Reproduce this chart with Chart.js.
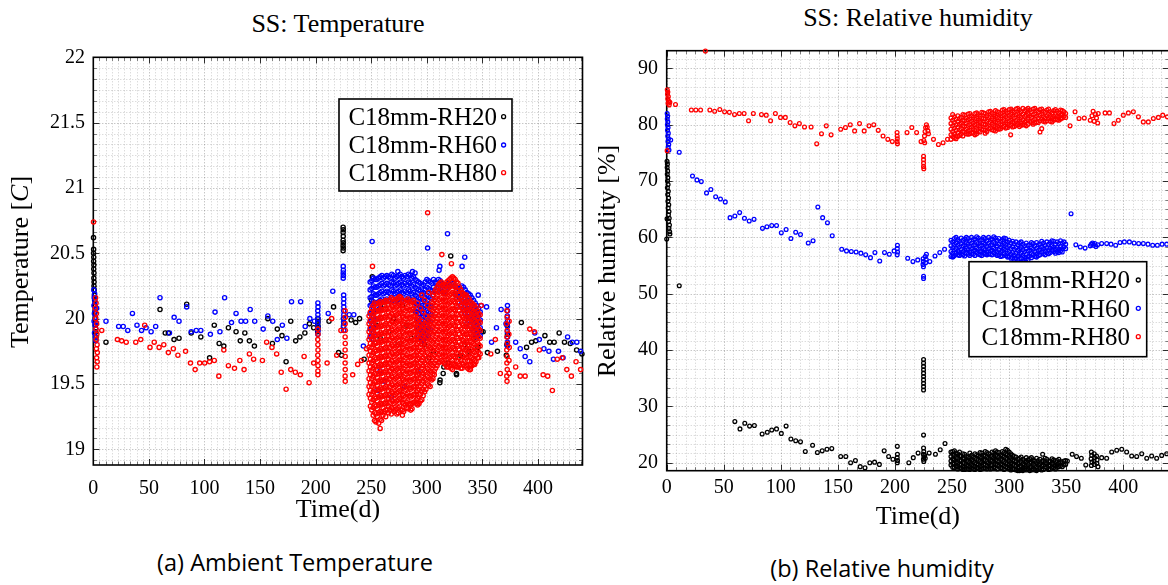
<!DOCTYPE html>
<html>
<head>
<meta charset="utf-8">
<script src="https://cdn.jsdelivr.net/npm/chart.js@4.4.1/dist/chart.umd.min.js"></script>
<style>
  html,body{margin:0;padding:0;background:#fff;}
  body{width:1168px;height:585px;overflow:hidden;position:relative;}
  canvas{position:absolute;top:0;}
  #cT{left:0;}
  #cH{left:590px;}
  .ttl{position:absolute;font-family:"Liberation Serif",serif;font-size:26px;line-height:30px;text-align:center;color:#000;white-space:nowrap;}
  .cap{position:absolute;font-family:"Open Sans",sans-serif;font-weight:500;font-size:23.5px;line-height:30px;text-align:center;color:#000;white-space:nowrap;}
</style>
</head>
<body>
<div class="ttl" style="left:0;width:676px;top:9px;">SS: Temperature</div>
<div class="ttl" style="left:590px;width:656px;top:3px;">SS: Relative humidity</div>
<canvas id="cT" width="590" height="540"></canvas>
<canvas id="cH" width="590" height="540"></canvas>
<div class="cap" style="left:95px;width:400px;top:547px;">(a) Ambient Temperature</div>
<div class="cap" style="left:682px;width:400px;top:553px;">(b) Relative humidity</div>
<script>
const seriesNames = ['C18mm-RH20', 'C18mm-RH60', 'C18mm-RH80'];
const seriesColors = ['#000000', '#0000ff', '#ff0000'];
const dayTicks = [0, 50, 100, 150, 200, 250, 300, 350, 400];
const tempTicks = [19, 19.5, 20, 20.5, 21, 21.5, 22];
const humTicks = [20, 30, 40, 50, 60, 70, 80, 90];

// ---------------- Temperature (day, °C) ----------------
const tempRH20 = [
 [0.2,20.62],[0.3,20.53],[0.2,20.50],[0.4,20.47],[0.3,20.44],[0.5,20.41],[0.4,20.38],[0.6,20.35],[0.5,20.31],[0.7,20.28],[0.6,20.25],[0.8,20.22],[1.0,20.18],[1.2,20.14],[1.4,20.10],[1.6,20.05],[1.8,20.00],[2.0,19.95],[2.2,19.90],[2.4,19.86],
 [11.4,19.82],[60.0,20.07],[64.7,19.89],[67.5,19.89],[72.6,19.84],[77.1,19.85],[84.0,20.11],[88.1,19.89],[96.7,19.86],[104.6,19.70],[108.8,19.95],[113.2,19.81],[117.4,19.79],[121.5,19.93],[128.4,19.90],[132.2,19.83],[136.3,19.89],[140.4,19.83],[144.9,19.79],[157.0,20.00],[161.1,19.81],[165.5,19.92],[169.7,19.87],[173.4,19.67],[177.6,19.98],[182.0,19.83],[185.8,19.86],[190.3,19.89],[194.4,19.96],[198.2,19.93],
 [201.8,19.90],[202.0,19.92],[202.2,19.94],[201.9,19.96],[202.1,19.98],[202.0,20.00],
 [212.0,19.98],[216.1,20.09],[220.6,19.74],[223.3,19.72],
 [224.7,20.70],[224.8,20.68],[224.7,20.66],[224.8,20.63],[224.7,20.60],[224.8,20.58],[224.7,20.56],[224.8,20.54],[224.7,20.52],[225.0,20.00],[225.2,19.97],[225.0,19.94],
 [231.9,19.99],[236.0,19.97],[239.5,20.00],[243.6,19.69],
 [250.9,20.32],[250.2,20.14],[252,20.05],[255,19.95],[258,19.85],[262,20.10],[266,19.90],[270,20.00],[274,19.80],[278,20.10],[282,19.95],[286,19.85],[290,20.05],[294,19.90],[298,19.80],[302,19.70],[306,19.75],
 [311.7,19.51],[311.9,19.53],[314.7,19.58],[315.3,19.63],[319.2,19.66],[321.5,20.48],[326.6,19.58],[326.7,19.57],[330,19.72],[334,19.80],[338,19.75],[342,19.85],[346,19.78],[349,19.90],
 [350.6,19.90],[354.5,19.74],[363.5,19.75],
 [371.5,19.72],[372.0,19.80],[372.5,19.88],[372.2,19.95],
 [385.0,19.97],[389.7,19.78],[394.2,19.82],[398.0,19.83],[406.2,19.87],[410.5,19.82],[414.5,19.82],[419.0,19.89],[423.8,19.82],[429.0,19.81],[434.7,19.76],[439.5,19.73]
];

const tempRH60 = [
 [0.5,20.22],[1.2,20.19],[0.8,20.16],[1.5,20.13],[0.6,20.10],[1.8,20.07],[1.0,20.04],[2.0,20.01],[0.7,19.98],[1.6,19.95],[2.2,19.92],[1.1,19.89],[1.9,19.86],[2.4,19.83],[3.0,20.08],[2.6,19.97],
 [11.4,19.98],[22.8,19.94],[26.9,19.94],[31.0,19.91],[35.2,20.04],[39.3,19.95],[43.4,19.91],[47.5,19.93],[52.0,19.90],[56.1,19.94],[60.0,20.16],[68.5,19.89],[72.7,20.01],[77.1,19.98],[84.0,20.09],[88.1,19.90],[92.6,19.91],[96.7,19.91],[105.3,19.88],[109.5,20.05],[113.9,19.90],[118.1,20.16],[124.3,19.97],[128.4,20.04],[132.9,19.98],[137.0,19.98],[141.1,20.07],[145.2,19.98],[152.8,19.92],[157.0,20.02],[161.4,19.98],[165.5,19.84],[170.0,19.95],[174.1,19.85],[178.3,20.13],[186.5,20.13],[190.6,19.94],[194.8,20.00],[198.9,19.98],
 [202.0,20.12],[202.1,20.09],[201.9,20.06],[202.0,20.03],[202.1,20.00],[201.9,19.97],[202.0,19.94],[202.1,19.91],[202.0,19.88],
 [211.3,20.04],[215.4,20.21],
 [224.8,20.40],[224.9,20.37],[224.8,20.35],[224.9,20.33],[224.8,20.31],[225.2,20.18],[225.3,20.15],[225.2,20.12],[225.3,20.09],[225.2,20.06],[225.3,20.03],[225.2,20.00],[225.3,19.97],[225.2,19.94],[225.3,19.91],
 [230.2,20.03],[234.3,20.03],[242.9,19.79],
 [250.8,20.59],[300.7,20.54],[318.6,20.65],[334.1,20.47],[331.7,20.40],[311.0,20.37],[311.7,20.40],[273.9,20.36],[287.1,20.36],[289.4,20.35],[346.2,20.18],
 [256,19.45],[262,19.52],[268,19.40],[280,19.48],[292,19.60],[258,19.60],
 [348.9,20.10],[353.7,20.09],[358.2,19.82],[362.6,19.93],[366.8,20.07],[371.2,19.96],
 [372.5,20.10],[372.6,20.06],[372.4,20.02],[372.6,19.98],[372.5,19.94],[372.4,19.90],[372.6,19.86],[372.5,19.82],[372.4,19.79],
 [379.9,19.82],[384.0,19.77],[388.4,19.71],[392.6,19.67],[397.1,19.89],[401.2,19.84],[405.3,19.77],[409.8,19.75],[413.9,19.69],[418.4,19.75],[422.5,19.70],[426.6,19.86],[430.8,19.82],[434.9,19.82],[438.3,19.75]
];

// dense period, one column per entry: [day, readings...]
const tempRH60Band = [
 [249,20.28,20.22,20.16,20.10,20.04,19.98,19.92,19.86],
 [250.5,20.29,20.23,20.17,20.11,20.05,19.99,19.93,19.87],
 [252,20.31,20.25,20.19,20.13,20.07,20.01,19.95,19.89,19.84],
 [253.5,20.30,20.24,20.18,20.12,20.06,20.00,19.94],
 [255,20.30,20.24,20.18,20.12,20.06,20.00],
 [256.5,20.31,20.25,20.19,20.13,20.07],
 [258,20.32,20.26,20.20,20.14,20.08],
 [259.5,20.33,20.27,20.21,20.15],
 [261,20.31,20.25,20.19,20.13],
 [262.5,20.32,20.26,20.20,20.14],
 [264,20.33,20.27,20.21,20.15],
 [265.5,20.32,20.26,20.20,20.14],
 [267,20.31,20.25,20.19,20.13],
 [268.5,20.34,20.28,20.22,20.16],
 [270,20.33,20.27,20.21,20.15],
 [271.5,20.31,20.25,20.19,20.13],
 [273,20.32,20.26,20.20,20.14],
 [274.5,20.33,20.27,20.21,20.15],
 [276,20.34,20.28,20.22,20.16],
 [277.5,20.32,20.26,20.20,20.14],
 [279,20.31,20.25,20.19,20.13],
 [280.5,20.33,20.27,20.21,20.15],
 [282,20.32,20.26,20.20,20.14],
 [283.5,20.34,20.28,20.22,20.16],
 [285,20.33,20.27,20.21,20.15],
 [286.5,20.31,20.25,20.19,20.13],
 [288,20.32,20.26,20.20,20.14],
 [289.5,20.30,20.24,20.18,20.12,20.06],
 [291,20.29,20.23,20.17,20.11,20.05,19.99,19.93],
 [292.5,20.28,20.22,20.16,20.10,20.04,19.98,19.92,19.86],
 [294,20.27,20.21,20.15,20.09,20.03,19.97,19.91,19.85],
 [295.5,20.25,20.19,20.13,20.07,20.01,19.95,19.89,19.83],
 [297,20.26,20.20,20.14,20.08,20.02,19.96,19.90,19.84],
 [298.5,20.28,20.22,20.16,20.10,20.04,19.98,19.92,19.86],
 [300,20.30,20.24,20.18,20.12,20.06,20.00,19.94,19.88],
 [301.5,20.29,20.23,20.17,20.11,20.05,19.99,19.93,19.87],
 [303,20.28,20.22,20.16,20.10,20.04,19.98,19.92],
 [304.5,20.27,20.21,20.15,20.09,20.03],
 [306,20.30,20.24,20.18],
 [307.5,20.28,20.22],
 [309,20.27,20.21],
 [310.5,20.30,20.24],
 [312,20.29,20.23],
 [313.5,20.27,20.21],
 [315,20.26,20.20],
 [316.5,20.25,20.19],
 [318,20.24],
 [319.5,20.27],
 [321,20.25],
 [322.5,20.26],
 [324,20.27],
 [325.5,20.25,20.19],
 [327,20.24,20.18],
 [328.5,20.23,20.17],
 [330,20.22,20.16,20.10],
 [331.5,20.25,20.19,20.13],
 [333,20.24,20.18,20.12,20.06],
 [334.5,20.22,20.16,20.10,20.04],
 [336,20.20,20.14,20.08,20.02,19.96],
 [337.5,20.19,20.13,20.07,20.01],
 [339,20.18,20.12,20.06,20.00,19.94],
 [340.5,20.16,20.10,20.04,19.98,19.92],
 [342,20.14,20.08,20.02,19.96,19.90],
 [343.5,20.12,20.06,20.00,19.94,19.88],
 [345,20.10,20.04,19.98,19.92,19.86],
 [346.5,20.08,20.02,19.96,19.90],
 [348,20.05,19.99,19.93,19.87]
];

const tempRH80 = [
 [0.2,20.74],[2.1,20.16],[2.5,20.12],[1.8,20.08],[2.8,20.04],[2.2,20.00],[3.0,19.96],[2.4,19.92],[3.2,19.88],[2.6,19.84],[3.4,19.80],[2.8,19.77],[3.6,19.74],[3.0,19.70],[3.5,19.67],[3.2,19.63],[7.6,19.91],
 [21.7,19.84],[25.5,19.83],[29.6,19.82],[38.2,19.82],[42.7,19.84],[46.2,19.95],[51.0,19.78],[54.8,19.82],[59.2,19.78],[63.4,19.80],[67.5,19.74],[72.0,19.77],[76.1,19.72],[83.0,19.75],[87.4,19.66],[91.6,19.61],[95.7,19.66],[100.2,19.66],[104.6,19.67],[108.8,19.68],[112.9,19.56],[117.4,19.76],[121.5,19.64],[127.0,19.62],[131.8,19.68],[135.6,19.61],[140.4,19.73],[144.2,19.69],[152.1,19.68],[155.9,19.82],[160.7,19.78],[164.9,19.73],[169.0,19.59],[173.4,19.46],[177.6,19.61],[181.7,19.59],[186.2,19.57],[189.6,19.71],[194.1,19.51],[198.2,19.66],
 [202.0,19.92],[202.1,19.88],[201.9,19.84],[202.0,19.80],[202.1,19.76],[201.9,19.72],[202.0,19.68],[202.1,19.64],[202.0,19.60],[202.0,19.57],
 [210.3,19.66],[214.4,20.00],[218.9,19.72],[222.7,19.91],
 [226.5,20.06],[226.6,20.01],[226.5,19.96],[226.6,19.91],[226.5,19.86],[226.6,19.81],[226.5,19.76],[226.6,19.71],[226.5,19.66],[226.6,19.61],[226.5,19.56],[226.6,19.52],
 [233.3,19.57],[237.8,19.65],[241.2,19.68],[245.7,19.77],
 [251.1,20.40],[300.7,20.81],[313.5,20.49],[322.1,20.42],
 [348.9,20.10],[357.5,19.73],[361.6,19.84],[366.1,19.58],
 [372.0,20.06],[372.2,20.01],[371.8,19.96],[372.3,19.91],[372.0,19.86],[372.4,19.81],[371.9,19.76],[372.2,19.71],[372.0,19.66],[372.3,19.61],[371.9,19.56],[372.1,19.52],[374.0,19.98],[373.8,19.88],[374.1,19.78],[373.9,19.68],[374.0,19.58],
 [379.9,19.63],[384.0,19.56],[388.4,19.56],[392.6,19.92],[396.7,19.90],[401.2,19.76],[404.6,19.57],[408.7,19.56],[412.9,19.45],[417.3,19.69],[421.8,19.70],[425.9,19.61],[430.0,19.56],[434.2,19.67],[438.3,19.61]
];

const tempRH80Band = [
 [248,20.02,19.96,19.90,19.84,19.78,19.72,19.66,19.60,19.54,19.48,19.42],
 [249.2,20.05,19.99,19.93,19.87,19.81,19.75,19.69,19.63,19.57,19.51,19.45,19.39,19.33],
 [250.5,20.08,20.02,19.96,19.90,19.84,19.78,19.72,19.66,19.60,19.54,19.48,19.42,19.36,19.30],
 [251.7,20.10,20.04,19.98,19.92,19.86,19.80,19.74,19.68,19.62,19.56,19.50,19.44,19.38,19.32,19.26],
 [253,20.12,20.06,20.00,19.94,19.88,19.82,19.76,19.70,19.64,19.58,19.52,19.46,19.40,19.34,19.28,19.22],
 [254.2,20.11,20.05,19.99,19.93,19.87,19.81,19.75,19.69,19.63,19.57,19.51,19.45,19.39,19.33,19.27,19.21],
 [255.5,20.09,20.03,19.97,19.91,19.85,19.79,19.73,19.67,19.61,19.55,19.49,19.43,19.37,19.31,19.25],
 [256.7,20.12,20.06,20.00,19.94,19.88,19.82,19.76,19.70,19.64,19.58,19.52,19.46,19.40,19.34,19.28,19.20],
 [258,20.13,20.07,20.01,19.95,19.89,19.83,19.77,19.71,19.65,19.59,19.53,19.47,19.41,19.35,19.29,19.23,19.16],
 [259.2,20.12,20.06,20.00,19.94,19.88,19.82,19.76,19.70,19.64,19.58,19.52,19.46,19.40,19.34,19.28,19.22],
 [260.5,20.10,20.04,19.98,19.92,19.86,19.80,19.74,19.68,19.62,19.56,19.50,19.44,19.38,19.32,19.26],
 [261.7,20.13,20.07,20.01,19.95,19.89,19.83,19.77,19.71,19.65,19.59,19.53,19.47,19.41,19.35,19.29],
 [263,20.14,20.08,20.02,19.96,19.90,19.84,19.78,19.72,19.66,19.60,19.54,19.48,19.42,19.36,19.30,19.25],
 [264.2,20.13,20.07,20.01,19.95,19.89,19.83,19.77,19.71,19.65,19.59,19.53,19.47,19.41,19.35,19.30],
 [265.5,20.11,20.05,19.99,19.93,19.87,19.81,19.75,19.69,19.63,19.57,19.51,19.45,19.39,19.33,19.28],
 [266.7,20.14,20.08,20.02,19.96,19.90,19.84,19.78,19.72,19.66,19.60,19.54,19.48,19.42,19.36,19.30],
 [268,20.16,20.10,20.04,19.98,19.92,19.86,19.80,19.74,19.68,19.62,19.56,19.50,19.44,19.38,19.32,19.27],
 [269.2,20.15,20.09,20.03,19.97,19.91,19.85,19.79,19.73,19.67,19.61,19.55,19.49,19.43,19.37,19.31],
 [270.5,20.13,20.07,20.01,19.95,19.89,19.83,19.77,19.71,19.65,19.59,19.53,19.47,19.41,19.35,19.29],
 [271.7,20.14,20.08,20.02,19.96,19.90,19.84,19.78,19.72,19.66,19.60,19.54,19.48,19.42,19.36,19.30],
 [273,20.15,20.09,20.03,19.97,19.91,19.85,19.79,19.73,19.67,19.61,19.55,19.49,19.43,19.37,19.31,19.27],
 [274.2,20.16,20.10,20.04,19.98,19.92,19.86,19.80,19.74,19.68,19.62,19.56,19.50,19.44,19.38,19.32,19.28],
 [275.5,20.17,20.11,20.05,19.99,19.93,19.87,19.81,19.75,19.69,19.63,19.57,19.51,19.45,19.39,19.33],
 [276.7,20.16,20.10,20.04,19.98,19.92,19.86,19.80,19.74,19.68,19.62,19.56,19.50,19.44,19.38,19.30],
 [278,20.14,20.08,20.02,19.96,19.90,19.84,19.78,19.72,19.66,19.60,19.54,19.48,19.42,19.36,19.30,19.26],
 [279.2,20.13,20.07,20.01,19.95,19.89,19.83,19.77,19.71,19.65,19.59,19.53,19.47,19.41,19.35,19.29],
 [280.5,20.12,20.06,20.00,19.94,19.88,19.82,19.76,19.70,19.64,19.58,19.52,19.46,19.40,19.34],
 [281.7,20.14,20.08,20.02,19.96,19.90,19.84,19.78,19.72,19.66,19.60,19.54,19.48,19.42,19.36,19.32],
 [283,20.15,20.09,20.03,19.97,19.91,19.85,19.79,19.73,19.67,19.61,19.55,19.49,19.43,19.37,19.31],
 [284.2,20.13,20.07,20.01,19.95,19.89,19.83,19.77,19.71,19.65,19.59,19.53,19.47,19.41,19.35],
 [285.5,20.12,20.06,20.00,19.94,19.88,19.82,19.76,19.70,19.64,19.58,19.52,19.46,19.40,19.34,19.30],
 [286.7,20.13,20.07,20.01,19.95,19.89,19.83,19.77,19.71,19.65,19.59,19.53,19.47,19.41,19.35,19.31],
 [288,20.14,20.08,20.02,19.96,19.90,19.84,19.78,19.72,19.66,19.60,19.54,19.48,19.42,19.36],
 [289.2,20.10,20.02,19.96,19.90,19.84,19.78,19.72,19.66,19.60,19.54,19.48,19.42,19.36],
 [290.5,20.04,19.98,19.92,19.86,19.80,19.74,19.68,19.62,19.56,19.50,19.44,19.38,19.35],
 [291.7,20.12,19.99,19.93,19.87,19.81,19.75,19.69,19.63,19.57,19.51,19.45,19.39,19.34],
 [293,20.00,19.94,19.88,19.82,19.76,19.70,19.64,19.58,19.52,19.46,19.40,19.35],
 [294.2,20.08,19.96,19.90,19.84,19.78,19.72,19.66,19.60,19.54,19.48,19.42,19.37],
 [295.5,20.18,19.98,19.92,19.86,19.80,19.74,19.68,19.62,19.56,19.50,19.44,19.38],
 [296.7,20.05,19.94,19.88,19.82,19.76,19.70,19.64,19.58,19.52,19.46,19.41],
 [298,20.14,19.96,19.90,19.84,19.78,19.72,19.66,19.60,19.54,19.48,19.44],
 [299.2,20.02,19.95,19.89,19.83,19.77,19.71,19.65,19.59,19.53,19.46],
 [300.5,20.10,19.98,19.92,19.86,19.80,19.74,19.68,19.62,19.56,19.50],
 [301.7,20.20,19.97,19.91,19.85,19.79,19.73,19.67,19.61,19.55,19.49],
 [303,20.08,20.02,19.96,19.90,19.84,19.78,19.72,19.66,19.60,19.54,19.48],
 [304.2,20.13,20.07,20.01,19.95,19.89,19.83,19.77,19.71,19.65,19.59,19.53],
 [305.5,20.18,20.12,20.06,20.00,19.94,19.88,19.82,19.76,19.70,19.64,19.58,19.54],
 [306.7,20.20,20.14,20.08,20.02,19.96,19.90,19.84,19.78,19.72,19.66,19.60,19.57],
 [308,20.22,20.16,20.10,20.04,19.98,19.92,19.86,19.80,19.74,19.68,19.62],
 [309.2,20.24,20.18,20.12,20.06,20.00,19.94,19.88,19.82,19.76,19.70,19.64],
 [310.5,20.26,20.20,20.14,20.08,20.02,19.96,19.90,19.84,19.78,19.72,19.66],
 [311.7,20.27,20.21,20.15,20.09,20.03,19.97,19.91,19.85,19.79,19.73,19.67],
 [313,20.28,20.22,20.16,20.10,20.04,19.98,19.92,19.86,19.80,19.74,19.68],
 [314.2,20.26,20.20,20.14,20.08,20.02,19.96,19.90,19.84,19.78,19.72,19.67],
 [315.5,20.25,20.19,20.13,20.07,20.01,19.95,19.89,19.83,19.77,19.71,19.66],
 [316.7,20.26,20.20,20.14,20.08,20.02,19.96,19.90,19.84,19.78,19.72,19.65],
 [318,20.28,20.22,20.16,20.10,20.04,19.98,19.92,19.86,19.80,19.74,19.68,19.63],
 [319.2,20.29,20.23,20.17,20.11,20.05,19.99,19.93,19.87,19.81,19.75,19.69,19.63],
 [320.5,20.30,20.24,20.18,20.12,20.06,20.00,19.94,19.88,19.82,19.76,19.70,19.64],
 [321.7,20.31,20.25,20.19,20.13,20.07,20.01,19.95,19.89,19.83,19.77,19.71,19.65,19.62],
 [323,20.32,20.26,20.20,20.14,20.08,20.02,19.96,19.90,19.84,19.78,19.72,19.66,19.61],
 [324.2,20.31,20.25,20.19,20.13,20.07,20.01,19.95,19.89,19.83,19.77,19.71,19.65],
 [325.5,20.30,20.24,20.18,20.12,20.06,20.00,19.94,19.88,19.82,19.76,19.70,19.64],
 [326.7,20.28,20.22,20.16,20.10,20.04,19.98,19.92,19.86,19.80,19.74,19.68,19.63],
 [328,20.27,20.21,20.15,20.09,20.03,19.97,19.91,19.85,19.79,19.73,19.67,19.63],
 [329.2,20.24,20.18,20.12,20.06,20.00,19.94,19.88,19.82,19.76,19.70,19.64],
 [330.5,20.22,20.16,20.10,20.04,19.98,19.92,19.86,19.80,19.74,19.68,19.62],
 [331.7,20.20,20.14,20.08,20.02,19.96,19.90,19.84,19.78,19.72,19.66,19.62],
 [333,20.19,20.13,20.07,20.01,19.95,19.89,19.83,19.77,19.71,19.65],
 [334.2,20.18,20.12,20.06,20.00,19.94,19.88,19.82,19.76,19.70,19.64],
 [335.5,20.18,20.12,20.06,20.00,19.94,19.88,19.82,19.76,19.70,19.64],
 [336.7,20.16,20.10,20.04,19.98,19.92,19.86,19.80,19.74,19.68,19.62],
 [338,20.15,20.09,20.03,19.97,19.91,19.85,19.79,19.73,19.67,19.61],
 [339.2,20.13,20.07,20.01,19.95,19.89,19.83,19.77,19.71,19.65,19.61],
 [340.5,20.12,20.06,20.00,19.94,19.88,19.82,19.76,19.70,19.64],
 [341.7,20.11,20.05,19.99,19.93,19.87,19.81,19.75,19.69,19.65],
 [343,20.10,20.04,19.98,19.92,19.86,19.80,19.74,19.68,19.65],
 [344.2,20.08,20.02,19.96,19.90,19.84,19.78,19.72,19.67],
 [345.5,20.06,20.00,19.94,19.88,19.82,19.76,19.70],
 [346.7,20.04,19.98,19.92,19.86,19.80,19.74,19.70],
 [348,20.03,19.97,19.91,19.85,19.79,19.73]
];

// ---------------- Relative humidity (day, %) ----------------
const humRH20 = [
 [0.3,73.5],[0.6,73.0],[0.4,72.4],[0.8,71.8],[0.5,71.2],[1.0,70.6],[0.7,70.0],[1.2,69.4],[0.6,68.8],[1.4,68.2],[0.9,67.6],[1.6,67.0],[1.1,66.4],[1.8,65.8],[1.3,65.2],[2.0,64.6],[1.5,64.0],[2.2,63.4],[1.7,62.8],[2.4,62.2],[2.0,61.6],[2.6,61.0],[2.8,60.6],[0.0,59.7],[0.3,63.3],
 [11.0,51.4],
 [59.7,27.3],[64.2,26.0],[68.4,27.0],[72.6,26.5],[76.8,26.6],[83.6,25.1],[88.1,25.4],[92.0,25.8],[96.2,26.0],[100.4,25.2],[104.6,26.5],[108.8,24.2],[113.0,23.9],[117.2,23.7],[121.4,22.0],[127.8,23.1],[132.0,21.8],[136.2,22.1],[140.4,22.4],[144.6,22.5],[152.4,21.1],[156.9,21.1],[161.1,20.0],[165.3,20.4],[169.5,19.3],[173.7,19.1],[177.9,20.0],[182.1,20.1],[186.3,19.7],[190.5,22.1],[194.4,21.1],[198.2,20.6],
 [202.0,22.9],[202.1,21.5],[201.9,20.9],[202.2,20.4],[202.0,20.0],
 [212.1,20.0],[216.0,20.9],[220.2,21.7],
 [225.0,38.3],[225.0,37.7],[225.0,37.1],[225.0,36.5],[225.0,35.9],[225.0,35.3],[225.0,34.7],[225.0,34.1],[225.0,33.5],[225.0,32.9],[225.0,24.9],[225.0,22.6],[225.2,22.0],[224.8,21.5],[225.3,21.0],[224.9,20.6],[225.2,20.2],[226.0,21.3],[226.5,20.8],
 [229.9,21.7],[235.4,21.5],[239.6,22.3],[243.8,23.4],
 [329.3,21.5],[313.8,19.0],
 [351.0,20.3],[355.2,21.5],[359.0,21.1],[363.2,20.8],[367.1,19.6],
 [372.0,21.9],[372.3,21.3],[371.8,20.7],[372.5,20.1],[372.0,19.5],[374.5,21.6],[374.8,20.9],[374.3,20.3],[374.6,19.7],[376.5,21.2],[377.0,20.5],[376.8,19.9],[377.8,19.3],
 [381.0,20.9],[385.4,20.8],[389.8,21.9],[394.2,22.2],[398.6,22.4],[402.9,21.9],[407.3,21.2],[411.7,21.1],[416.1,21.6],[420.5,20.8],[424.8,21.2],[429.2,20.8],[433.6,21.3],[438.0,21.6]
];

const humRH20Band = [
 [249,21.9,21.1,20.3,19.6],[250.5,22.0,21.5,20.7,19.9,19.2],
 [252,22.1,21.3,20.5,19.8,19.1],[253.5,21.7,20.9,20.1,19.4],
 [255,21.6,20.8,20.0,19.3,18.9],[256.5,21.9,21.2,20.4,19.7,19.0],
 [258,21.2,20.4,19.6,19.0],[259.5,21.6,20.8,20.0,19.3,18.8],
 [261,21.5,20.7,19.9,19.2,18.8],[262.5,21.1,20.3,19.5,18.9],
 [264,21.0,20.2,19.4,18.9],[265.5,21.7,20.9,20.1,19.3,18.8],
 [267,21.3,20.5,19.7,19.0],[268.5,21.0,20.2,19.4,18.9],
 [270,21.6,20.8,20.0,19.3,18.8],[271.5,21.4,20.6,19.8,19.1],
 [273,21.2,20.4,19.6,19.0],[274.5,21.8,21.0,20.2,19.3,18.8],
 [276,21.7,20.9,20.1,19.4,18.9],[277.5,21.3,20.5,19.7,19.0],
 [279,22.0,21.2,20.4,19.6,19.0],[280.5,21.8,21.0,20.2,19.4,18.9],
 [282,21.6,20.8,20.0,19.2],[283.5,21.2,20.4,19.6,18.9],
 [285,21.9,21.1,20.3,19.5,19.0],[286.5,21.7,20.9,20.1,19.2],
 [288,22.1,21.3,20.5,19.7,19.1],[289.5,21.9,21.1,20.3,19.5,18.9],
 [291,21.8,21.0,20.2,19.4],[292.5,21.4,20.6,19.8,19.1],
 [294,22.0,21.2,20.4,19.6,19.0],[295.5,21.8,21.0,20.2,19.4,18.8],
 [297,22.4,21.6,20.8,20.0,19.3],[298.5,22.2,21.4,20.6,19.8,19.1],
 [300,21.9,21.1,20.3,19.5,18.9],[301.5,21.6,20.8,20.0,19.2,18.7],
 [303,21.3,20.5,19.7,18.9],[304.5,21.1,20.3,19.5,18.8],
 [306,21.0,20.2,19.4,18.7],[307.5,20.6,19.8,19.0,18.6],
 [309,20.8,20.0,19.2,18.6],[310.5,21.0,20.2,19.4,18.7],
 [312,20.6,19.8,19.0,18.6],[313.5,20.4,19.6,18.8],
 [315,20.9,20.1,19.3,18.7],[316.5,20.5,19.7,18.9],
 [318,20.7,19.9,19.1,18.6],[319.5,20.9,20.1,19.3,18.7],
 [321,20.5,19.7,18.9],[322.5,20.3,19.5,18.7],
 [324,20.8,20.0,19.2,18.6],[325.5,20.4,19.6,18.8],
 [327,20.6,19.8,19.0],[328.5,20.2,19.4,18.7],
 [330,20.4,19.6,18.8],[331.5,20.8,20.0,19.3],
 [333,20.6,19.8,19.1],[334.5,20.2,19.4,18.8],
 [336,20.3,19.5,18.9],[337.5,20.7,19.9,19.2],
 [339,20.5,19.7,19.1],[340.5,20.2,19.4,18.9],
 [342,20.4,19.6,19.2],[343.5,20.6,19.9,19.3],
 [345,20.2,19.5],[346.5,20.0,19.3],
 [348,20.3,19.6],[349.5,20.4,19.7]
];

const humRH60 = [
 [0.4,82.0],[0.8,81.5],[0.5,81.0],[1.0,80.5],[0.6,80.0],[1.2,79.5],[0.7,79.0],[1.4,78.5],[0.9,78.0],[1.6,77.5],[1.1,77.0],[1.8,76.5],[1.3,76.0],[2.0,75.5],[3.5,77.3],
 [11.0,75.1],
 [22.6,70.9],[26.5,70.2],[30.3,69.9],[34.9,67.9],[38.7,68.5],[42.9,67.2],[47.1,66.8],[51.3,66.3],[55.5,63.5],[59.7,63.8],[63.9,64.4],[68.1,63.4],[72.3,62.9],[76.5,63.2],[83.9,61.6],[87.8,61.9],[92.0,62.1],[96.2,62.1],[100.4,60.8],[104.6,61.4],[108.8,59.8],[113.0,60.9],[117.2,60.5],[124.0,59.0],[128.2,59.4],[132.4,65.4],[136.6,63.5],[140.8,62.6],[145.0,60.3],[153.3,57.9],[157.5,57.6],[161.7,57.5],[165.9,57.4],[170.1,57.2],[174.3,56.9],[178.5,56.4],[182.4,57.3],[186.6,55.8],[190.8,57.3],[195.0,57.0],[199.2,57.6],
 [202.1,58.6],[202.0,58.0],[202.2,57.4],[201.9,56.9],
 [211.1,56.3],[215.7,55.7],[219.9,56.0],
 [224.6,56.2],[224.8,55.7],[224.5,55.2],[224.9,54.8],[225.0,53.1],[225.0,52.7],[226.5,56.6],[227.3,56.1],[226.8,55.5],[227.5,57.0],
 [230.5,55.7],[235.0,56.7],[239.2,57.3],[243.4,57.9],
 [251.1,56.6],[311.8,55.7],[354.2,64.2],
 [358.4,58.7],[362.3,58.3],[366.5,58.1],[371.0,58.5],[372.0,58.8],[373.0,59.0],[374.0,58.6],[375.0,58.9],[376.0,58.4],[377.5,58.7],
 [381.0,58.9],[385.4,58.9],[389.2,58.8],[393.3,58.6],[397.1,59.1],[400.9,59.2],[405.3,59.2],[409.4,59.0],[413.4,58.9],[417.5,58.9],[421.6,58.8],[425.7,58.6],[429.8,58.6],[433.9,58.8],[438.0,58.8]
];

const humRH60Band = [
 [249,59.5,58.5,57.5,56.6],[250.5,59.2,58.2,57.2,56.5],
 [252,59.8,58.8,57.8,56.8],[253.5,60.0,59.0,58.0,57.2],
 [255,59.6,58.6,57.6,56.9],[256.5,59.3,58.3,57.3,56.8],
 [258,59.9,58.9,57.9,57.0],[259.5,59.5,58.5,57.5,56.9],
 [261,59.7,58.7,57.7,56.7],[262.5,60.0,59.0,58.0,57.2],
 [264,59.8,58.8,57.8,57.0],[265.5,59.4,58.4,57.4,56.8],
 [267,60.0,59.0,58.0,57.1],[268.5,59.6,58.6,57.6,57.0],
 [270,59.7,58.7,57.7,56.8],[271.5,60.1,59.1,58.1,57.3],
 [273,59.9,58.9,57.9,57.0],[274.5,59.5,58.5,57.5,56.9],
 [276,59.6,58.6,57.6,56.8],[277.5,60.0,59.0,58.0,57.2],
 [279,59.8,58.8,57.8,57.0],[280.5,59.4,58.4,57.4,56.9],
 [282,60.0,59.0,58.0,57.1],[283.5,59.6,58.6,57.6,57.0],
 [285,59.7,58.7,57.7,56.9],[286.5,60.1,59.1,58.1,57.3],
 [288,59.9,58.9,57.9,57.0],[289.5,59.5,58.5,57.5,56.8],
 [291,59.8,58.8,57.8,56.9],[292.5,59.3,58.3,57.3,56.6],
 [294,59.6,58.6,57.6,56.7],[295.5,59.9,58.9,57.9,57.1],
 [297,59.8,58.8,57.8,56.8],[298.5,59.2,58.2,57.2,56.5],
 [300,59.5,58.5,57.5,56.6],[301.5,59.0,58.0,57.0,56.3],
 [303,59.3,58.3,57.3,56.4],[304.5,58.9,57.9,56.9,56.1],
 [306,59.2,58.2,57.2,56.3],[307.5,58.7,57.7,56.7,55.9],
 [309,59.0,58.0,57.0,56.1],[310.5,59.2,58.2,57.2,56.3],
 [312,58.8,57.8,56.8,55.7],[313.5,58.5,57.5,56.5,55.9],
 [315,59.0,58.0,57.0,56.2],[316.5,58.6,57.6,56.6,56.0],
 [318,58.7,57.7,56.7],[319.5,59.1,58.1,57.1,56.4],
 [321,58.9,57.9,56.9],[322.5,58.5,57.5,56.6],
 [324,59.1,58.1,57.1,56.5],[325.5,58.7,57.7,56.8],
 [327,58.8,57.8,56.9],[328.5,59.3,58.3,57.4],
 [330,59.0,58.0,57.1],[331.5,58.6,57.6,56.9],
 [333,59.2,58.2,57.3],[334.5,58.8,57.8,57.1],
 [336,59.1,58.1,57.3],[337.5,59.4,58.5,57.7],
 [339,59.3,58.3,57.5],[340.5,58.8,57.9,57.2],
 [342,59.2,58.2,57.5],[343.5,58.9,57.9,57.3],
 [345,59.4,58.4,57.6],[346.5,59.0,58.0,57.4],
 [348,59.2,58.3],[349.5,58.8,58.0]
];

const humRH80 = [
 [0.5,86.2],[1.0,85.8],[0.7,85.4],[1.4,85.0],[0.9,84.6],[1.8,84.2],[1.2,83.8],[2.2,83.5],[2.8,84.0],[0.4,75.4],[7.7,83.6],
 [33.9,93.1],
 [21.6,82.6],[25.5,82.6],[29.7,82.6],[37.8,82.6],[42.0,82.4],[46.5,82.7],[50.7,82.3],[54.9,82.2],[59.4,81.8],[63.6,82.0],[67.8,82.0],[71.7,80.7],[75.9,82.0],[83.0,81.8],[87.2,81.7],[91.0,80.7],[95.2,82.0],[99.7,81.3],[103.9,81.3],[108.1,80.4],[112.3,79.8],[116.2,80.2],[120.7,79.6],[126.5,79.6],[131.4,76.6],[135.6,78.4],[139.8,79.8],[144.0,78.2],[152.4,79.2],[156.6,79.5],[160.8,80.0],[164.6,78.9],[168.9,80.2],[173.0,78.9],[177.2,79.8],[181.4,80.0],[185.3,79.0],[189.5,78.0],[193.7,77.4],[197.6,77.0],
 [201.8,78.6],[201.9,78.0],[202.0,77.5],[201.8,77.0],[202.1,76.6],
 [210.5,78.6],[214.7,79.5],[218.9,78.6],[222.8,77.0],
 [225.2,77.2],[225.8,78.0],[226.3,78.8],[226.8,79.5],[227.5,80.0],[228.2,79.6],[228.8,78.9],[229.3,78.4],[226.0,76.8],[225.0,74.4],[225.0,73.8],[225.0,73.2],[225.0,72.6],[225.2,72.2],
 [233.7,77.4],[238.0,76.5],[242.1,76.8],[246.0,77.4],
 [301.3,78.2],[327.0,78.7],[328.5,79.3],[353.3,79.8],
 [357.7,82.3],[361.2,81.1],[365.8,81.2],[371.0,80.8],[372.5,81.6],[373.5,82.4],[374.5,80.6],[375.5,81.9],[376.5,81.2],[377.5,80.3],[378.0,82.0],
 [384.0,82.1],[387.8,82.1],[391.8,80.2],[395.6,80.8],[400.0,81.7],[404.4,82.1],[408.8,82.3],[413.2,81.4],[417.5,80.5],[421.9,80.5],[426.3,81.1],[430.7,81.3],[434.5,81.7],[438.6,81.4]
];

const humRH80Band = [
 [249,81.2,80.2,79.2,78.2,77.4],[250.5,81.8,80.8,79.8,78.8,77.9],
 [252,81.4,80.4,79.4,78.4,77.6],[253.5,81.0,80.0,79.0,78.0,77.5],
 [255,81.6,80.6,79.6,78.6,77.9],[256.5,81.1,80.1,79.1,78.1],
 [258,81.3,80.3,79.3,78.3],[259.5,81.8,80.8,79.8,78.8,78.0],
 [261,81.7,80.7,79.7,78.7],[262.5,81.2,80.2,79.2,78.4],
 [264,81.9,80.9,79.9,78.9,78.3],[265.5,82.0,81.0,80.0,79.0,78.4],
 [267,81.6,80.6,79.6,78.6],[268.5,81.3,80.3,79.3,78.5],
 [270,82.0,81.0,80.0,79.0,78.2],[271.5,82.1,81.1,80.1,79.1,78.4],
 [273,81.8,80.8,79.8,78.8],[274.5,81.5,80.5,79.5,78.7],
 [276,82.2,81.2,80.2,79.2],[277.5,82.1,81.1,80.1,79.1],
 [279,82.0,81.0,80.0,79.0,78.5],[280.5,81.6,80.6,79.6,78.8],
 [282,82.3,81.3,80.3,79.3],[283.5,82.4,81.4,80.4,79.4],
 [285,82.1,81.1,80.1,79.1],[286.5,81.8,80.8,79.8,79.0],
 [288,82.5,81.5,80.5,79.5,78.9],[289.5,82.3,81.3,80.3,79.3],
 [291,82.2,81.2,80.2,79.2],[292.5,82.0,81.0,80.0,79.3],
 [294,82.6,81.6,80.6,79.6],[295.5,82.7,81.7,80.7,79.7],
 [297,82.4,81.4,80.4,79.4],[298.5,82.1,81.1,80.1,79.5],
 [300,82.7,81.7,80.7,79.8],[301.5,82.8,81.8,80.8,79.9],
 [303,82.5,81.5,80.5,79.6],[304.5,82.2,81.2,80.2,79.7],
 [306,82.8,81.8,80.8,79.9],[307.5,82.9,81.9,80.9,80.0],
 [309,82.6,81.6,80.6,79.7],[310.5,82.3,81.3,80.3,79.9],
 [312,82.9,81.9,80.9,80.0],[313.5,82.5,81.5,80.5,80.0],
 [315,82.7,81.7,80.7,79.8],[316.5,82.9,81.9,80.9,80.1],
 [318,82.6,81.6,80.6],[319.5,82.3,81.3,80.4],
 [321,82.8,81.8,80.8,80.1],[322.5,82.9,81.9,81.0,80.3],
 [324,82.5,81.5,80.5],[325.5,82.2,81.2,80.4],
 [327,82.7,81.7,80.7],[328.5,82.8,81.9,81.0],
 [330,82.4,81.4,80.6],[331.5,82.2,81.2,80.5],
 [333,82.6,81.6,80.7],[334.5,82.8,81.9,81.1],
 [336,82.3,81.4,80.6],[337.5,82.1,81.2,80.5],
 [339,82.5,81.5,80.8],[340.5,82.7,81.8,81.0],
 [342,82.4,81.5,80.9],[343.5,82.1,81.3,80.8],
 [345,82.6,81.7,81.0],[346.5,82.5,81.9,81.2],
 [348,82.3,81.5],[349.5,82.0,81.3]
];

// ---------------- helpers ----------------
const SERIF = '"Liberation Serif", serif';
function pairs(list){ return list.map(p => ({x: p[0], y: p[1]})); }
function columns(list){ const out = []; list.forEach(c => { for (let i = 1; i < c.length; i++) out.push({x: c[0], y: c[i]}); }); return out; }

const guides = {
  id: 'guides',
  beforeDatasetsDraw(chart, args, o) {
    const {ctx, chartArea: a, scales: {x, y}} = chart;
    const seq = (min, max, step) => { const r = []; const k0 = Math.ceil(min / step - 1e-6), k1 = Math.floor(max / step + 1e-6); for (let k = k0; k <= k1; k++) r.push(k * step); return r; };
    const isMajor = (v, step) => Math.abs(v / step - Math.round(v / step)) < 1e-6;
    ctx.save();
    ctx.lineWidth = 1;
    ctx.setLineDash([1, 2]);
    seq(x.min, x.max, o.xMinor).forEach(v => {
      const p = Math.round(x.getPixelForValue(v)) + 0.5;
      ctx.strokeStyle = isMajor(v, o.xMajor) ? 'rgba(0,0,0,0.32)' : 'rgba(0,0,0,0.2)';
      ctx.beginPath(); ctx.moveTo(p, a.top); ctx.lineTo(p, a.bottom); ctx.stroke();
    });
    seq(y.min, y.max, o.yMinor).forEach(v => {
      const p = Math.round(y.getPixelForValue(v)) + 0.5;
      ctx.strokeStyle = isMajor(v, o.yMajor) ? 'rgba(0,0,0,0.32)' : 'rgba(0,0,0,0.2)';
      ctx.beginPath(); ctx.moveTo(a.left, p); ctx.lineTo(a.right, p); ctx.stroke();
    });
    ctx.setLineDash([]);
    seq(x.min, x.max, o.xMinor).forEach(v => {
      const p = Math.round(x.getPixelForValue(v)) + 0.5;
      const maj = isMajor(v, o.xMajor); const L = maj ? 6 : 3.5;
      ctx.strokeStyle = maj ? 'rgba(0,0,0,0.8)' : 'rgba(0,0,0,0.5)';
      ctx.beginPath(); ctx.moveTo(p, a.bottom); ctx.lineTo(p, a.bottom - L); ctx.moveTo(p, a.top); ctx.lineTo(p, a.top + L); ctx.stroke();
    });
    seq(y.min, y.max, o.yMinor).forEach(v => {
      const p = Math.round(y.getPixelForValue(v)) + 0.5;
      const maj = isMajor(v, o.yMajor); const L = maj ? 6 : 3.5;
      ctx.strokeStyle = maj ? 'rgba(0,0,0,0.8)' : 'rgba(0,0,0,0.5)';
      ctx.beginPath(); ctx.moveTo(a.left, p); ctx.lineTo(a.left + L, p); ctx.moveTo(a.right, p); ctx.lineTo(a.right - L, p); ctx.stroke();
    });
    ctx.lineWidth = 1.6; ctx.strokeStyle = '#000';
    ctx.strokeRect(a.left, a.top, a.right - a.left, a.bottom - a.top);
    ctx.restore();
  }
};

const yTitle = {
  id: 'yTitle',
  afterDraw(chart, args, o) {
    const {ctx} = chart;
    ctx.save();
    ctx.translate(o.x, o.y);
    ctx.rotate(-Math.PI / 2);
    ctx.textBaseline = 'middle';
    ctx.fillStyle = '#000';
    let total = 0;
    o.parts.forEach(p => { ctx.font = (p.italic ? 'italic ' : '') + o.size + 'px ' + SERIF; total += ctx.measureText(p.t).width; });
    let cx = -total / 2;
    o.parts.forEach(p => { ctx.font = (p.italic ? 'italic ' : '') + o.size + 'px ' + SERIF; ctx.textAlign = 'left'; ctx.fillText(p.t, cx, 0); cx += ctx.measureText(p.t).width; });
    ctx.restore();
  }
};

const legendBox = {
  id: 'legendBox',
  afterDatasetsDraw(chart, args, o) {
    const {ctx} = chart;
    ctx.save();
    ctx.fillStyle = '#fff';
    ctx.fillRect(o.x, o.y, o.w, o.h);
    ctx.lineWidth = 1.6; ctx.strokeStyle = '#000';
    ctx.strokeRect(o.x, o.y, o.w, o.h);
    ctx.font = o.size + 'px ' + SERIF;
    ctx.textAlign = 'right'; ctx.textBaseline = 'alphabetic';
    seriesNames.forEach((n, i) => {
      const cy = o.rows[i];
      ctx.fillStyle = '#000';
      ctx.fillText(n, o.textRight, cy + o.size * 0.33);
      ctx.beginPath(); ctx.arc(o.markX, cy, o.r, 0, Math.PI * 2);
      ctx.lineWidth = o.bw; ctx.strokeStyle = seriesColors[i]; ctx.stroke();
    });
    ctx.restore();
  }
};

function ds(label, data, color, order, r, bw) {
  return { label, data, order, showLine: false, clip: false,
    pointStyle: 'circle', pointRadius: r, pointHoverRadius: r, pointBorderWidth: bw,
    pointBackgroundColor: 'rgba(0,0,0,0)', pointBorderColor: color,
    backgroundColor: 'rgba(0,0,0,0)', borderColor: color };
}

function makeChart(canvasId, cfg) {
  return new Chart(document.getElementById(canvasId), {
    type: 'scatter',
    data: { datasets: cfg.datasets },
    plugins: [guides, legendBox, yTitle],
    options: {
      responsive: false, animation: false, events: [],
      layout: { padding: { left: 0, top: cfg.top, right: cfg.right, bottom: 0 } },
      plugins: {
        legend: { display: false }, tooltip: { enabled: false },
        guides: cfg.guides, legendBox: cfg.legend, yTitle: cfg.yTitle
      },
      scales: {
        x: {
          type: 'linear', min: 0, max: 440,
          afterFit(s) { s.height = cfg.xH; },
          grid: { display: false, drawTicks: false }, border: { display: false },
          ticks: { stepSize: 50, includeBounds: false, autoSkip: false, maxRotation: 0, padding: cfg.xPad,
                   color: '#000', font: { family: SERIF, size: 20 },
                   callback: v => dayTicks.includes(v) ? String(v) : '' },
          title: { display: true, text: 'Time(d)', color: '#000', font: { family: SERIF, size: 26 }, padding: { top: 0, bottom: cfg.xTitlePad } }
        },
        y: {
          type: 'linear', min: cfg.yMin, max: cfg.yMax,
          afterFit(s) { s.width = cfg.yW; },
          grid: { display: false, drawTicks: false }, border: { display: false },
          ticks: { stepSize: cfg.yStep, includeBounds: false, autoSkip: false, padding: cfg.yPad,
                   color: '#000', font: { family: SERIF, size: 20 },
                   callback: v => cfg.yTicks.some(t => Math.abs(t - v) < 1e-6) ? String(Math.round(v * 10) / 10) : '' }
        }
      }
    }
  });
}

function draw() {
  makeChart('cT', {
    top: 57.3, right: 7.5, xH: 75, yW: 93.3, xPad: 12, yPad: 8.3, xTitlePad: 14,
    yMin: 18.88, yMax: 22, yStep: 0.5, yTicks: tempTicks,
    guides: { xMinor: 50 / 9, xMajor: 50, yMinor: 0.5 / 6, yMajor: 0.5 },
    legend: { x: 339, y: 99, w: 173, h: 92, size: 25, textRight: 497, markX: 503.6, rows: [116.7, 145, 172.7], r: 2, bw: 1.3 },
    yTitle: { x: 21.6, y: 262, size: 26, parts: [{t: 'Temperature ['}, {t: 'C', italic: true}, {t: ']'}] },
    datasets: [
      ds(seriesNames[0], pairs(tempRH20), seriesColors[0], 3, 2.1, 1.35),
      ds(seriesNames[1], pairs(tempRH60).concat(columns(tempRH60Band)), seriesColors[1], 2, 2.1, 1.35),
      ds(seriesNames[2], pairs(tempRH80).concat(columns(tempRH80Band)), seriesColors[2], 1, 2.1, 1.35)
    ]
  });
  makeChart('cH', {
    top: 50.7, right: 11, xH: 69.3, yW: 76.7, xPad: 5, yPad: 8.7, xTitlePad: 7.5,
    yMin: 18.58, yMax: 93.14, yStep: 10, yTicks: humTicks,
    guides: { xMinor: 50 / 6, xMajor: 50, yMinor: 10 / 6, yMajor: 10 },
    legend: { x: 379, y: 261.7, w: 177.7, h: 95, size: 25, textRight: 540, markX: 548.3, rows: [280, 308.3, 336.7], r: 2, bw: 1.3 },
    yTitle: { x: 18.4, y: 261, size: 26, parts: [{t: 'Relative humidity [%]'}] },
    datasets: [
      ds(seriesNames[0], pairs(humRH20).concat(columns(humRH20Band)), seriesColors[0], 3, 1.9, 1.3),
      ds(seriesNames[1], pairs(humRH60).concat(columns(humRH60Band)), seriesColors[1], 2, 1.9, 1.3),
      ds(seriesNames[2], pairs(humRH80).concat(columns(humRH80Band)), seriesColors[2], 1, 1.9, 1.3)
    ]
  });
}

const fontLoads = [
  document.fonts.load('26px "Liberation Serif"'),
  document.fonts.load('italic 26px "Liberation Serif"'),
  document.fonts.load('500 24px "Open Sans"')
];
Promise.all(fontLoads).then(draw, draw);
</script>
</body>
</html>
